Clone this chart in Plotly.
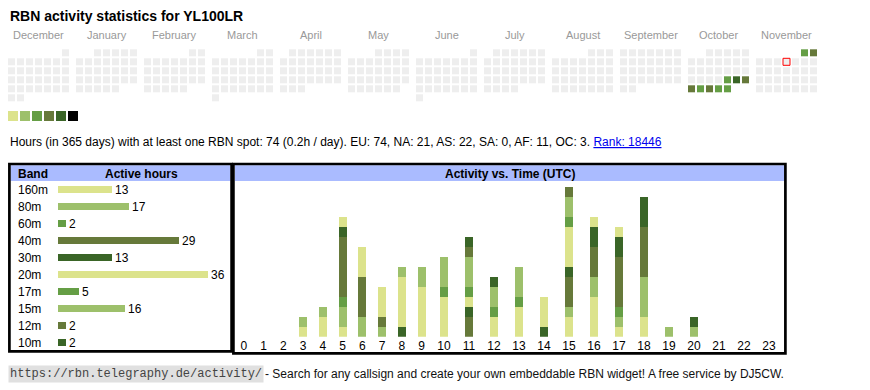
import datetime as dt
import plotly.graph_objects as go

# ---------------- data ----------------
CALLSIGN = "YL100LR"
month_names = ["December", "January", "February", "March", "April", "May", "June",
               "July", "August", "September", "October", "November"]
month_years = [2024, 2025, 2025, 2025, 2025, 2025, 2025, 2025, 2025, 2025, 2025, 2025]
month_numbers = [12, 1, 2, 3, 4, 5, 6, 7, 8, 9, 10, 11]
today = "2025-11-06"
active_days = ["2025-10-24", "2025-10-25", "2025-10-26", "2025-10-27", "2025-10-28",
               "2025-10-29", "2025-10-30", "2025-10-31", "2025-11-01", "2025-11-02"]
active_levels = [3, 5, 4, 4, 3, 4, 3, 3, 3, 4]

period_days = 365
total_hours = 74
continents = ["EU", "NA", "AS", "SA", "AF", "OC"]
continent_hours = [74, 21, 22, 0, 11, 3]
rank = 18446

bands = ["160m", "80m", "60m", "40m", "30m", "20m", "17m", "15m", "12m", "10m"]
band_hours = [13, 17, 2, 29, 13, 36, 5, 16, 2, 2]

hour_labels = [str(h) for h in range(24)]
h160 = [0, 0, 0, 1, 2, 1, 0, 0, 0, 0, 0, 0, 0, 0, 0, 2, 4, 1, 2, 0, 0, 0, 0, 0]
h80 = [0, 0, 0, 1, 1, 2, 2, 1, 0, 0, 0, 0, 0, 0, 0, 1, 2, 1, 4, 1, 1, 0, 0, 0]
h60 = [0, 0, 0, 0, 0, 1, 0, 0, 0, 0, 0, 0, 0, 0, 0, 0, 0, 1, 0, 0, 0, 0, 0, 0]
h40 = [0, 0, 0, 0, 0, 6, 4, 1, 0, 0, 0, 2, 0, 0, 0, 3, 3, 5, 5, 0, 0, 0, 0, 0]
h30 = [0, 0, 0, 0, 0, 1, 0, 0, 1, 0, 0, 1, 0, 0, 1, 1, 2, 2, 3, 0, 1, 0, 0, 0]
h20 = [0, 0, 0, 0, 0, 1, 3, 3, 5, 5, 4, 1, 2, 3, 3, 4, 1, 1, 0, 0, 0, 0, 0, 0]
h17 = [0, 0, 0, 0, 0, 0, 0, 0, 0, 0, 1, 1, 1, 1, 0, 1, 0, 0, 0, 0, 0, 0, 0, 0]
h15 = [0, 0, 0, 0, 0, 0, 0, 0, 1, 2, 3, 3, 2, 3, 0, 2, 0, 0, 0, 0, 0, 0, 0, 0]
h12 = [0, 0, 0, 0, 0, 0, 0, 0, 0, 0, 0, 1, 0, 0, 0, 1, 0, 0, 0, 0, 0, 0, 0, 0]
h10 = [0, 0, 0, 0, 0, 0, 0, 0, 0, 0, 0, 1, 1, 0, 0, 0, 0, 0, 0, 0, 0, 0, 0, 0]
hourly = [h160, h80, h60, h40, h30, h20, h17, h15, h12, h10]

# ---------------- styles ----------------
level_colors = ["#dce38c", "#9dc06b", "#659e45", "#66793a", "#3a6527", "#000000"]
band_colors = ["#dce38c", "#9dc06b", "#659e45", "#66793a", "#3a6527",
               "#dce38c", "#659e45", "#9dc06b", "#66793a", "#3a6527"]
EMPTY = "#eeeeee"
HEADER = "#aabbff"
SANS = "Liberation Sans, Arial, sans-serif"
MONO = "Liberation Mono, Courier New, monospace"
PAGE_W, PAGE_H = 870, 390
OFF = 8                      # default page margin around the plot div
W, H = PAGE_W - OFF, PAGE_H - OFF


def fx(p):  # page x -> paper fraction
    return (p - OFF) / W


def fy(p):  # page y -> paper fraction (from bottom)
    return 1 - (p - OFF) / H


fig = go.Figure()

# ---------------- calendar ----------------
CELL, PITCH, MONTH_PITCH, X0, Y0 = 7, 9, 68, 8, 49.3
act = {d: l for d, l in zip(active_days, active_levels)}
cx, cy, cc = [], [], []
tx = ty = None
for mi, (yy, mm) in enumerate(zip(month_years, month_numbers)):
    first = dt.date(yy, mm, 1)
    d = first
    while d.month == mm:
        wd = d.weekday()
        row = (d.day - 1 + first.weekday()) // 7
        x = X0 + MONTH_PITCH * mi + PITCH * wd + CELL / 2
        y = Y0 + PITCH * row + CELL / 2
        key = d.isoformat()
        cx.append(x); cy.append(y)
        cc.append(level_colors[act[key] - 1] if key in act else EMPTY)
        if key == today:
            tx, ty = x, y
        d += dt.timedelta(days=1)

fig.add_trace(go.Scatter(x=cx, y=cy, mode="markers", xaxis="x", yaxis="y",
                         marker=dict(symbol="square", size=CELL, color=cc, line=dict(width=0))))
if tx is not None:
    fig.add_trace(go.Scatter(x=[tx], y=[ty], mode="markers", xaxis="x", yaxis="y",
                             marker=dict(symbol="square", size=CELL, color=EMPTY,
                                         line=dict(width=1, color="#ff0000"))))
fig.add_trace(go.Scatter(x=[X0 + 5 + 12 * i for i in range(len(level_colors))],
                         y=[116] * len(level_colors), mode="markers", xaxis="x", yaxis="y",
                         marker=dict(symbol="square", size=10, color=level_colors, line=dict(width=0))))

annotations = []
annotations.append(dict(x=8, y=16, xref="x", yref="y", xanchor="left", yanchor="middle",
                        text=f"<b>RBN activity statistics for {CALLSIGN}</b>", showarrow=False,
                        font=dict(family=SANS, size=14, color="#000")))
for mi, name in enumerate(month_names):
    annotations.append(dict(x=X0 + MONTH_PITCH * mi + (7 * PITCH - 2) / 2, y=35, xref="x", yref="y",
                            xanchor="center", yanchor="middle", text=name, showarrow=False,
                            font=dict(family=SANS, size=11, color="#999999")))

cont_txt = ", ".join(f"{c}: {v}" for c, v in zip(continents, continent_hours))
stats = (f"Hours (in {period_days} days) with at least one RBN spot: {total_hours} "
         f"({total_hours / period_days:.1f}h / day). {cont_txt}. "
         f"<span style='color:#0000ee;text-decoration:underline'>Rank: {rank}</span>")
annotations.append(dict(x=8, y=142, xref="x", yref="y", xanchor="left", yanchor="middle",
                        text=stats, showarrow=False, font=dict(family=SANS, size=12, color="#000")))

# ---------------- tables frames ----------------
shapes = [
    dict(type="rect", xref="x", yref="y", x0=10.5, x1=230.5, y0=165.3, y1=181, fillcolor=HEADER,
         line=dict(width=0), layer="below"),
    dict(type="rect", xref="x", yref="y", x0=235, x1=784, y0=165.3, y1=181, fillcolor=HEADER,
         line=dict(width=0), layer="below"),
    dict(type="rect", xref="x", yref="y", x0=9.4, x1=231.6, y0=164, y1=351.4,
         line=dict(width=2.7, color="#000"), layer="above"),
    dict(type="rect", xref="x", yref="y", x0=233.4, x1=785.4, y0=164, y1=353.4,
         line=dict(width=2.7, color="#000"), layer="above"),
]
annotations.append(dict(x=16, y=173.5, xref="x", yref="y", xanchor="left", yanchor="middle",
                        text="<b>Band</b>", showarrow=False, font=dict(family=SANS, size=12, color="#000")))
annotations.append(dict(x=141.5, y=173.5, xref="x", yref="y", xanchor="center", yanchor="middle",
                        text="<b>Active hours</b>", showarrow=False, font=dict(family=SANS, size=12, color="#000")))
annotations.append(dict(x=509.5, y=173.5, xref="x", yref="y", xanchor="center", yanchor="middle",
                        text="<b>Activity vs. Time (UTC)</b>", showarrow=False,
                        font=dict(family=SANS, size=12, color="#000")))

# ---------------- band bars (left table) ----------------
ROW = 17
BAR_X0 = 58
PX_PER_HOUR = 150 / 36
row_top = 189.5 - ROW / 2
row_bot = row_top + ROW * len(bands)
fig.add_trace(go.Bar(y=bands, x=band_hours, orientation="h", xaxis="x2", yaxis="y2",
                     marker=dict(color=band_colors, line=dict(width=0)), width=7 / ROW,
                     text=[str(v) for v in band_hours], textposition="outside",
                     textfont=dict(family=SANS, size=12, color="#000"),
                     cliponaxis=False, constraintext="none"))
for b in bands:
    annotations.append(dict(x=fx(16), y=b, xref="paper", yref="y2", xanchor="left", yanchor="middle",
                            text=b, showarrow=False, font=dict(family=SANS, size=12, color="#000")))

# ---------------- hourly stacked bars (right table) ----------------
col_w = [14.5 + 5.25 * len(l) for l in hour_labels]
centers, acc = [], 0.0
for w in col_w:
    centers.append(acc + w / 2)
    acc += w
UNIT = 10
base_px = 336.7
top_px = base_px - UNIT * 15
for b, vals, col in zip(bands, hourly, band_colors):
    fig.add_trace(go.Bar(x=centers, y=vals, xaxis="x3", yaxis="y3", width=8,
                         marker=dict(color=col, line=dict(width=0)), name=b))

annotations.append(dict(x=8, y=374, xref="x", yref="y", xanchor="left", yanchor="middle",
                        text="https://rbn.telegraphy.de/activity/", showarrow=False, bgcolor="#e0e0e0",
                        borderpad=1, font=dict(family=MONO, size=12, color="#444444")))
annotations.append(dict(x=263, y=374, xref="x", yref="y", xanchor="left", yanchor="middle",
                        text="- Search for any callsign and create your own embeddable RBN widget! "
                             "A free service by DJ5CW.",
                        showarrow=False, font=dict(family=SANS, size=12, color="#111111")))

hid = dict(visible=False, showgrid=False, zeroline=False, fixedrange=True)
fig.update_layout(
    width=W, height=H, margin=dict(l=0, r=0, t=0, b=0, pad=0),
    paper_bgcolor="white", plot_bgcolor="rgba(0,0,0,0)",
    showlegend=False, hovermode=False, barmode="stack", bargap=0,
    xaxis=dict(hid, domain=[0, 1], range=[OFF, PAGE_W]),
    yaxis=dict(hid, domain=[0, 1], range=[PAGE_H, OFF]),
    xaxis2=dict(hid, domain=[fx(BAR_X0), fx(228)], range=[0, (228 - BAR_X0) / PX_PER_HOUR], anchor="y2"),
    yaxis2=dict(hid, domain=[fy(row_bot), fy(row_top)], range=[len(bands) - 0.5, -0.5],
                type="category", categoryorder="array", categoryarray=bands, anchor="x2"),
    xaxis3=dict(domain=[fx(234), fx(784)], range=[0, 550], anchor="y3", showgrid=False, zeroline=False,
                showline=False, ticks="", tickmode="array", tickvals=centers, ticktext=hour_labels,
                tickfont=dict(family=SANS, size=12, color="#000"), fixedrange=True),
    yaxis3=dict(hid, domain=[fy(base_px), fy(top_px)], range=[0, 15], anchor="x3"),
    shapes=shapes, annotations=annotations,
)
fig.write_html("out.html")
